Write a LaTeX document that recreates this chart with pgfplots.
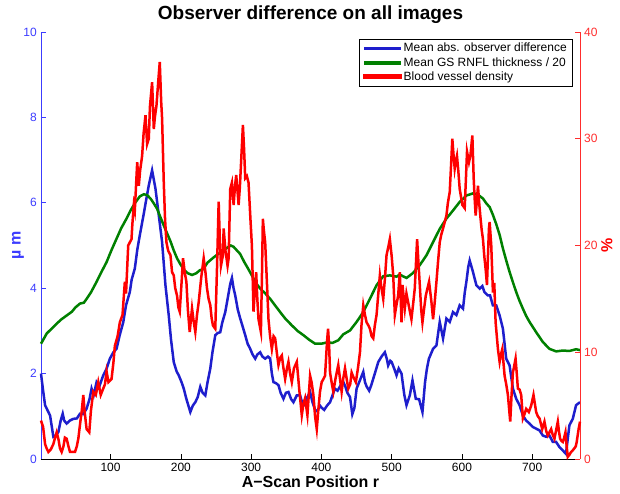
\documentclass[border=0pt]{standalone}
\usepackage{pgfplots}
\pgfplotsset{compat=1.18}
\usepackage{fontspec}
\setmainfont{Liberation Sans}
\definecolor{bl}{RGB}{30,30,205}
\definecolor{gr}{RGB}{0,128,0}
\definecolor{rd}{RGB}{255,0,0}
\definecolor{blax}{RGB}{60,60,255}
\definecolor{rdax}{RGB}{255,45,45}
\pgfplotsset{
  base/.style={width=539pt,height=427pt,scale only axis,xmin=1,xmax=768,clip=false,
    font=\fontsize{12}{14}\selectfont, /pgf/number format/assume math mode=true,
    tick align=inside, major tick length=5pt,
    axis line style={-, line width=0.6pt}},
}
\begin{document}
\begin{tikzpicture}
\begin{axis}[base, axis x line*=bottom, axis y line*=left,
  ymin=0, ymax=10, ytick={0,2,...,10}, xtick={100,200,...,700},
  x axis line style={draw=black}, y axis line style={draw=blax},
  xtick style={draw=black, line width=0.6pt}, ytick style={draw=blax, line width=0.6pt},
  yticklabel style={text=blax, anchor=east, inner sep=0pt, xshift=-4pt},
  xticklabel style={anchor=base, inner sep=0pt, yshift=-13pt},
  title={Observer difference on all images},
  title style={at={(axis description cs:0.5,1)}, anchor=base, yshift=6pt, font=\fontsize{19}{22}\selectfont\bfseries},
  xlabel={A−Scan Position r},
  xlabel style={at={(axis description cs:0.5,0)}, anchor=base, yshift=-29pt, font=\fontsize{16}{18}\selectfont\bfseries},
  ylabel={µ m},
  ylabel style={at={(axis description cs:-0.0427,0.5)}, anchor=center, font=\fontsize{16}{18}\selectfont\bfseries, text=blax},
]
\addplot[bl, line width=2.5pt] table {
x y
1 2.0
4 1.6
6.8 1.26
10 1.15
13.9 1.02
18.6 0.52
22 0.55
25.7 0.63
29 0.9
31.9 1.06
34 0.9
37.5 0.83
42 0.9
47 0.94
52 0.95
56.5 1.06
61 1.05
65.9 1.18
70 1.4
73 1.65
76 1.5
80.1 1.8
84 1.7
89.6 1.96
94 2.1
99 2.35
104 2.5
108.5 2.58
113 2.9
118 3.2
122 3.6
127.4 3.91
130 4.2
134.5 4.46
138 4.9
141.6 5.24
147.3 5.75
151 6.1
154.4 6.41
159.1 6.76
163.9 6.33
168.6 5.71
173.3 5.08
178.1 4.07
182.8 3.36
186 2.8
189.9 2.27
194 2.05
197 1.96
201 1.8
204.1 1.65
208 1.4
213.5 1.1
217 1.25
220.6 1.33
224 1.45
227.7 1.69
231 1.55
234.8 1.49
238 1.8
241.9 2.12
245 2.5
249 2.9
252.5 2.95
256.1 2.97
259 3.2
263.2 3.44
266 3.7
270.3 4.1
272.7 4.24
275 4.0
277.4 3.83
281 3.5
284.5 3.29
288 3.1
291.6 2.9
295 2.7
298.7 2.58
302 2.45
305.8 2.35
309 2.45
312.9 2.5
316 2.4
320 2.35
324 2.4
327.1 2.35
329.5 2.0
331.8 1.8
335 1.78
338.9 1.73
342 1.55
346 1.41
349.5 1.55
353.1 1.57
357 1.4
360.2 1.33
365 1.49
369.7 1.49
373 1.3
376.8 1.26
380 1.45
383.9 1.57
387 1.35
391 1.15
394 1.12
398 1.25
400.4 1.2
404 1.15
408 1.25
412.3 1.33
416 1.5
419 1.65
423 1.6
426.5 1.7
431.2 1.8
434 1.7
437 1.55
440.7 1.45
444 1.05
447 1.2
450.1 1.65
455 1.85
459.6 2.04
462 1.8
464.3 1.7
468 1.6
471 1.73
476 2.0
480.9 2.27
485.6 2.4
490.3 2.5
493 2.35
495 2.19
498 2.3
500 2.27
504 2.1
506.9 1.96
510 2.12
514 2.0
518 1.5
521.1 1.26
525.8 1.49
529.6 1.84
534.3 1.41
539 1.4
543.8 1.1
547.5 1.8
550 2.1
553 2.35
558.9 2.58
563.7 2.66
568.4 3.21
573.1 2.82
577.9 3.29
582.6 3.21
587.3 3.44
592.1 3.37
596.8 3.6
601.5 3.52
604 3.9
606.3 4.15
609 4.5
611 4.65
615.7 4.38
620.5 4.07
625.2 3.99
629 4.05
632 3.91
637 3.83
640 3.83
644 3.6
648.8 3.6
653.6 3.36
658.3 3.05
663 2.35
667.8 2.19
672.5 1.65
677.2 1.41
682 1.26
686.7 1.02
691.4 0.9
696.2 0.83
700.9 0.75
705.6 0.71
710.4 0.67
715.1 0.55
719.8 0.52
724.5 0.55
729.3 0.4
734 0.4
738.7 0.28
743.5 0.2
748 0.12
752.9 0.79
757.7 0.94
762.4 1.26
768 1.33
};
\addplot[gr, line width=2.5pt] table {
x y
1 2.7
9.2 2.94
16 3.05
23.3 3.17
30 3.27
37.5 3.36
45 3.45
50 3.55
56.5 3.64
62 3.66
65.9 3.75
72 3.9
80.1 4.15
87 4.38
94.3 4.61
101 4.88
108.5 5.16
115 5.4
122.7 5.63
128.4 5.82
135 6.0
141.6 6.15
147.3 6.2
152 6.18
156.8 6.1
161 6.0
166.2 5.86
170 5.7
175.7 5.47
180 5.3
185.2 5.1
190 4.88
194.6 4.7
199 4.57
205 4.42
210 4.35
216 4.31
222 4.35
227 4.42
232 4.45
238 4.6
246.6 4.72
253 4.8
260.8 4.88
266 4.95
271 5.0
275 4.97
280 4.88
284.5 4.8
290 4.62
296 4.45
301 4.3
307 4.12
312.9 3.99
320 3.88
327.1 3.75
334 3.6
341.3 3.44
349 3.28
357.9 3.13
366 3.0
374.4 2.9
382 2.8
391 2.7
400 2.7
408 2.73
416 2.72
424 2.78
431.2 2.92
440.7 3.01
450.1 3.21
459.6 3.44
469 3.75
478.5 4.07
488 4.28
497.4 4.3
506.9 4.27
511.6 4.32
516 4.28
521.1 4.24
526 4.3
530.6 4.36
540 4.54
549.5 4.77
558.9 5.08
568.4 5.39
577.9 5.63
587.3 5.82
596.8 6.02
606.3 6.17
615.7 6.22
622 6.2
629.9 6.1
635 5.98
639.4 5.9
644 5.72
648.8 5.5
653.6 5.25
658.3 4.93
663 4.65
667.8 4.38
672.5 4.14
677.2 3.91
682 3.7
686.7 3.52
691.4 3.35
696.2 3.21
705.6 2.97
715.1 2.74
724.5 2.58
734 2.52
743.5 2.54
752.9 2.53
762.4 2.57
768 2.55
};
\end{axis}
\begin{axis}[base, axis x line=none, axis y line*=right,
  ymin=0, ymax=40, ytick={0,10,...,40},
  y axis line style={draw=rdax}, ytick style={draw=rdax, line width=0.6pt},
  yticklabel style={text=rdax, anchor=west, inner sep=0pt, xshift=4pt},
  ylabel={\%},
  ylabel style={at={(axis description cs:1.05,0.5)}, anchor=center, font=\fontsize{16}{18}\selectfont\bfseries, text=rd},
  legend style={at={(axis description cs:0.987,0.9836)}, anchor=north east, draw=black, line width=0.6pt, fill=white,
    font=\fontsize{12}{14}\selectfont, inner xsep=4pt, inner ysep=2pt, row sep=0pt, nodes={fill=none}},
  legend cell align=left,
  legend image code/.code={\fill[#1] (0pt,-1.3pt) rectangle (36pt,1.3pt);},
]
\addlegendimage{bl}
\addlegendentry{Mean abs. observer difference}
\addlegendimage{gr}
\addlegendentry{Mean GS RNFL thickness / 20}
\addplot[rd, line width=2.5pt] table {
x y
1 3.6
4 3.0
6.8 1.4
9 1.0
11.5 0.66
15 0.9
18.6 1.4
21 2.0
23.3 2.5
26 1.8
28 1.0
30.4 0.66
33 1.2
35 2.0
37.5 1.9
40 1.2
42.3 0.66
46 0.66
49.4 0.66
52 1.2
54.1 1.9
57 3.5
59 4.5
61.2 6.0
63 4.5
65.9 2.8
69.7 2.5
72 4.5
75.4 6.3
79 6.0
82.5 7.2
86 6.0
89.6 6.6
92 7.0
94.3 8.2
97 7.2
101.4 7.5
104 9.0
106.1 10.6
110 11.5
113.2 12.8
117 13.5
120.3 16.6
122 15.5
125.1 20.0
129.8 20.6
131 22.0
133.1 23.8
134.5 23.3
137.9 27.8
140.2 25.6
142 27.0
144.9 28.4
147 30.5
149.7 32.2
152 29.5
154.4 30
156 33
159.1 35.3
161.5 30.9
163 32
165.3 33.1
168 35.5
170 37.2
172 33.5
173.3 31.9
175.7 25.9
177.5 22.5
179.5 20.3
182 19.5
185.2 19.1
187.5 17.5
189.9 17.2
192 16.0
194.6 15.3
196.5 14.2
198.4 13.8
201 16.5
203.1 18.8
205.5 17.5
207.9 16.6
210 14.0
212.6 11.9
215.9 14.1
218 13.0
220.6 11.9
223 13.5
225.4 14.7
229 17.0
232.5 18.8
235 17.5
237.2 16.0
239.5 15.0
241.9 14.4
243.8 13.2
245.7 12.5
249 12.2
251.5 18.0
253.8 24.1
255.5 20.5
257.1 18.1
259.9 19.1
260.9 21.6
263.5 19.5
266.5 18.1
268 18.8
270.3 25.3
272.7 25.9
275.1 23.8
277 25.5
278.8 26.6
282.2 23.8
284 25.5
285.5 27.5
287 29.5
288.3 31.3
290 29
291.6 26.3
294 26.5
296.3 25.9
299 22.5
301.1 20.0
303.4 13.8
305 15.5
307.2 17.5
308.8 15.0
310.5 13.1
313.9 11.9
315.5 17.5
316.7 22.5
318 21.5
320 20.3
322.5 16.5
324.7 13.1
327 11.5
329.5 10.3
332 11.5
334.2 11.3
336.5 10.0
338.9 8.8
341.5 9.5
343.7 9.7
346 8.5
348.4 7.5
351 8.5
353.1 9.1
355.5 8.0
357.9 7.2
361 8.5
365 9.1
368.5 6.5
372.1 4.1
374.5 5.2
376.8 5.7
380.1 4.1
383.9 7.8
386 7.2
388.6 6.0
391 4.0
393.4 2.8
395.5 4.5
398 6.3
400.4 7.2
403 7.5
405.2 7.8
408 11.0
409.5 12.2
411 10.6
412.3 8.1
415 7.0
417 6.3
420 7.5
424 8.8
426.5 7.5
428.8 6.3
431 7.5
433.6 8.5
436 7.5
438.3 6.6
441 7.0
443 8.1
446 7.6
449 7.2
452 8.5
454.9 10.0
457 12.5
459.6 14.4
462 13.5
464.3 12.8
467 12.5
469 12.2
471.5 11.5
473.8 11.3
476 12.5
478.5 13.5
481 15.5
483.2 17.2
485.5 16.0
488 15.0
490.5 17.0
492.7 19.1
495 19.8
497.4 20.6
500 19.0
502.2 17.2
504.5 13.5
507 14.5
509.2 15.3
511.6 17.5
514 12.8
515.4 16.3
518.7 14.1
521 15.5
523.4 14.7
526 13.8
528.1 13.1
530.5 14.5
532.9 16.0
536.2 20.6
538 18.5
540 16.3
542 14.0
543.8 12.8
546 14.0
548.5 15.3
551 16.0
553.2 16.6
556.6 14.7
558.9 13.1
561 14.5
563.7 16.6
566 18.5
568.4 20.3
570.5 21.0
573.1 21.6
575.5 22.2
577.9 22.8
580 24.0
582.6 25.0
584.5 27.5
586.3 30.0
588 28.5
589.7 27.2
591 27.8
592.9 28.4
594.8 27.0
596.8 25.3
598.8 24.5
600.6 23.8
603.9 23.5
605.5 26.0
607.2 28.8
610 27.8
612 28.4
614.8 30.3
616.7 26.3
618 24.5
619.5 22.8
621 24.0
622.8 25.6
624.5 24.0
626.1 22.8
628 21.5
629.9 20.6
631.8 19.0
633.7 17.8
635.6 16.3
637 19.0
638.4 21.6
639.4 22.2
641.7 20.0
644.1 15.6
646 16.5
647.9 12.8
651.2 10.3
653.6 9.1
655.5 9.8
657.4 10.3
660.7 7.8
663 7.0
665.4 6.0
668.7 3.5
670.6 6.0
672.5 8.1
676.3 9.4
678 8.0
679.6 6.6
682 6.5
684.3 6.0
686.7 3.8
689 4.2
691.4 4.7
695.2 4.4
698.5 5.0
701.8 6.0
705.6 4.4
708 4.0
710.4 3.8
714.2 2.8
717.4 3.5
720 2.6
722.2 2.2
724.5 2.5
726.9 2.8
729 2.3
731.6 1.9
734 2.7
736.4 3.5
738 2.6
739.7 1.9
741.5 1.7
743.5 1.6
745.5 2.0
747.3 2.5
749 1.2
750.6 0.2
753 0.4
755.3 0.66
757.5 0.8
760 1.0
762 1.2
763.3 1.6
766 2.8
768 3.5
};
\addlegendentry{Blood vessel density}
\end{axis}
\pgfresetboundingbox
\useasboundingbox (-41pt,-35pt) rectangle (579pt,459pt);
\end{tikzpicture}
\end{document}
